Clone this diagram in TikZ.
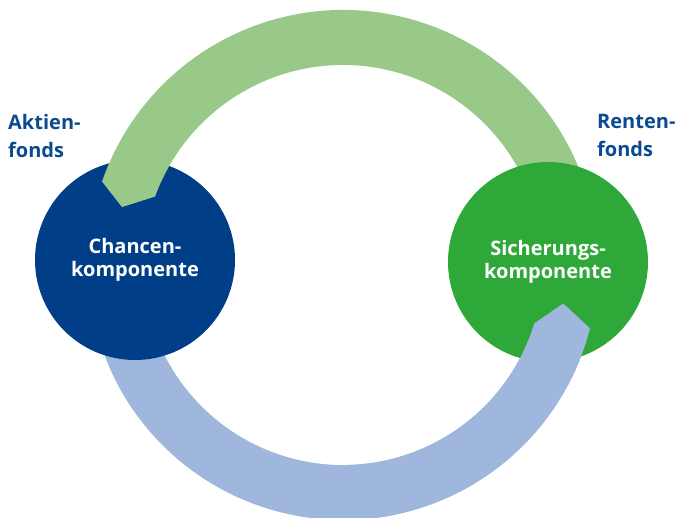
\documentclass[tikz,border=0pt]{standalone}
\usepackage{fontspec}
\setmainfont{Open Sans}
\definecolor{darkblue}{HTML}{003F87}
\definecolor{circgreen}{HTML}{2FA83A}
\definecolor{lightgreen}{HTML}{98C988}
\definecolor{lightblue}{HTML}{9FB7DC}
\definecolor{labelblue}{HTML}{0B4A92}
\begin{document}
\begin{tikzpicture}[x=1pt,y=1pt,
  bigcircle/.style={circle, minimum size=200pt, inner sep=0pt, text=white,
    font=\fontsize{20}{23}\selectfont\bfseries, align=center},
  sidelabel/.style={anchor=north west, inner sep=0pt, text=labelblue,
    font=\fontsize{20}{28}\selectfont\bfseries, align=left},
  greenband/.style={fill=lightgreen},
  blueband/.style={fill=lightblue}]
\useasboundingbox (0,0) rectangle (676,518);
\coordinate (ring) at (343,253);
% blue band (start hidden behind left circle)
\begin{scope}[shift={(ring)}]
\fill[blueband] (198:255) arc[start angle=198, end angle=345.6, radius=255]
  -- (350.1:223.6) -- (343:200) arc[start angle=343, end angle=198, radius=200] -- cycle;
\end{scope}
\node[bigcircle, fill=darkblue] (chance) at (135,258) {Chancen-\\komponente};
% green band (start hidden behind right circle)
\begin{scope}[shift={(ring)}]
\fill[greenband] (20:255) arc[start angle=20, end angle=160.9, radius=255]
  -- (165.3:228.5) -- (160:200) arc[start angle=160, end angle=20, radius=200] -- cycle;
\end{scope}
\node[bigcircle, fill=circgreen] (sicher) at (548,256) {Sicherungs-\\komponente};
% blue band tip over the right circle
\begin{scope}
\clip (343,0) rectangle (676,518);
\begin{scope}[shift={(ring)}]
\fill[blueband] (198:255) arc[start angle=198, end angle=345.6, radius=255]
  -- (350.1:223.6) -- (343:200) arc[start angle=343, end angle=198, radius=200] -- cycle;
\end{scope}
\end{scope}
\node[sidelabel] (aktien) at (8,404) {Aktien-\\fonds};
\node[sidelabel] (renten) at (597,404) {Renten-\\fonds};
\end{tikzpicture}
\end{document}
